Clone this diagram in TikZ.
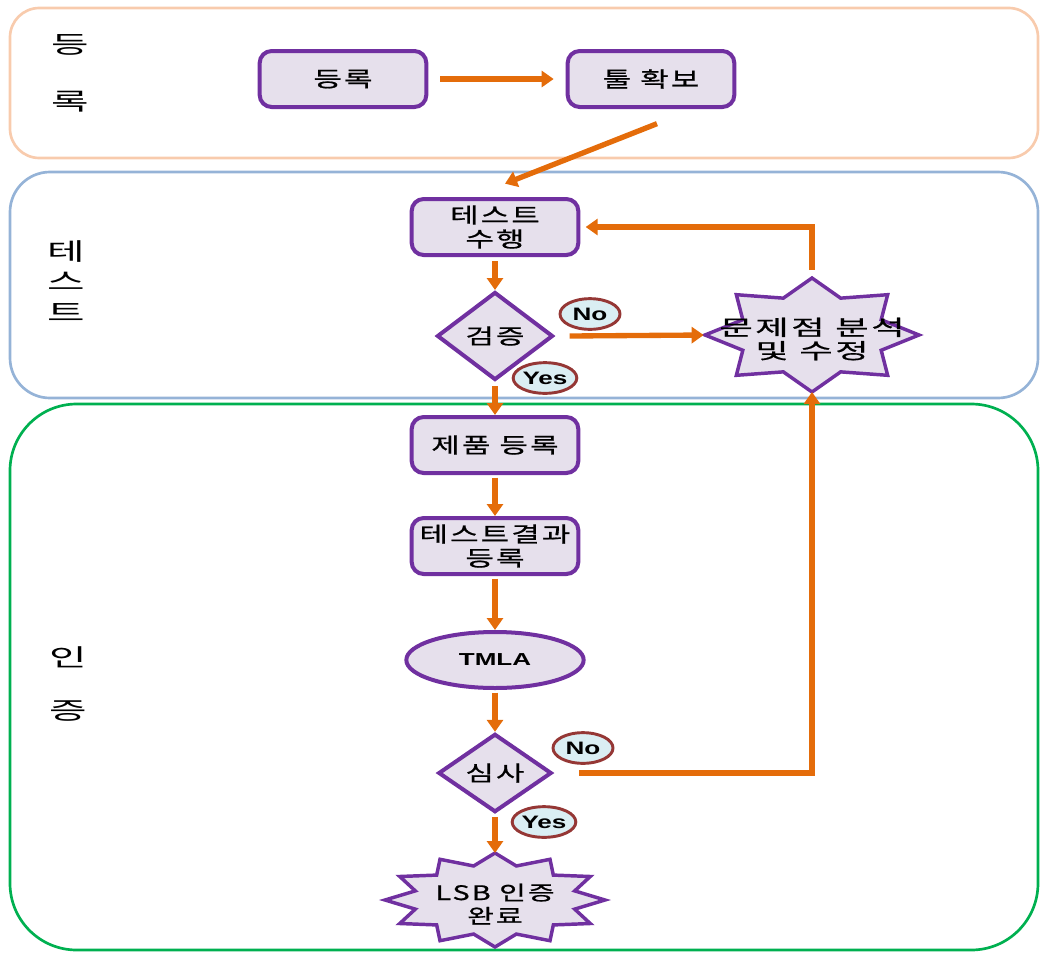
\documentclass[tikz,border=0pt]{standalone}
\usepackage{fontspec}
\setmainfont{Noto Sans CJK KR}
\newfontfamily\boxfont{Noto Sans CJK KR}[FakeStretch=1.45, LetterSpace=10, FakeBold=0.8]
\newfontfamily\starfont{Noto Sans CJK KR}[FakeStretch=1.7, LetterSpace=12, FakeBold=0.8]
\newfontfamily\lanefont{Noto Sans CJK KR}[FakeStretch=1.7]
\newfontfamily\tagfont{Liberation Sans}[FakeStretch=1.45]
\newfontfamily\ovalfont{Liberation Sans}[FakeStretch=1.5]
\usetikzlibrary{shapes.geometric,positioning,calc,arrows.meta}

\definecolor{procline}{HTML}{7030A0}
\definecolor{procfill}{HTML}{E6E0EC}
\definecolor{flow}{HTML}{E46C0A}
\definecolor{tagline}{HTML}{953735}
\definecolor{tagfill}{HTML}{DAEEF3}
\definecolor{laneA}{HTML}{F8CBAD}
\definecolor{laneB}{HTML}{95B3D7}
\definecolor{laneC}{HTML}{00B050}

\tikzset{
  lane/.style={line width=2pt},
  lanelabel/.style={align=center, inner sep=0pt},
  procbox/.style={draw=procline, line width=3pt, fill=procfill, rounded corners=9pt,
    minimum width=125pt, minimum height=42pt, align=center, inner sep=1pt,
    font=\boxfont\fontsize{16}{18}\selectfont},
  decision/.style={diamond, draw=procline, line width=3pt, fill=procfill, inner sep=0pt,
    font=\boxfont\fontsize{16}{18}\selectfont},
  oval/.style={ellipse, draw=procline, line width=3pt, fill=procfill, inner sep=0pt,
    minimum width=133pt, minimum height=42pt, font=\ovalfont\bfseries\fontsize{13}{15}\selectfont},
  starshape/.style={draw=procline, line width=2.6pt, fill=procfill, line join=miter},
  startext/.style={align=center, inner sep=0pt, font=\starfont\fontsize{16}{17.5}\selectfont},
  tag/.style={ellipse, draw=tagline, line width=2.2pt, fill=tagfill, inner sep=0pt,
    minimum width=45pt, minimum height=23pt, font=\tagfont\bfseries\fontsize{13.5}{15}\selectfont},
  flowarrow/.style={draw=flow, line width=4pt, -{Triangle[length=9pt,width=12pt]}},
}

\begin{document}
\begin{tikzpicture}[x=0.75pt, y=-0.75pt]
  \useasboundingbox (0,0) rectangle (1040,954);

  % Lanes
  \draw[lane, draw=laneA, rounded corners=22pt] (10,8) rectangle (1038,158);
  \draw[lane, draw=laneB, rounded corners=30pt] (10,172) rectangle (1038,398);
  \draw[lane, draw=laneC, rounded corners=50pt] (10,404) rectangle (1038,950);

  \node[lanelabel, font=\lanefont\fontsize{18}{43}\selectfont] (laneReg) at (70,73) {등\\록};
  \node[lanelabel, font=\lanefont\fontsize{18}{23}\selectfont] (laneTest) at (66,281) {테\\스\\트};
  \node[lanelabel, font=\lanefont\fontsize{18}{40}\selectfont] (laneCert) at (68,684) {인\\증};

  % Boxes
  \node[procbox] (reg) at (343,79) {등록};
  \node[procbox] (tool) at (651,79) {툴 확보};
  \node[procbox] (test) at (495,227) {테스트\\수행};
  \node[decision, minimum width=87pt, minimum height=66pt] (verify) at (495,336) {검증};
  \node[procbox] (prod) at (495,445) {제품 등록};
  \node[procbox] (result) at (495,546) {테스트결과\\등록};
  \node[oval] (tmla) at (495,660) {TMLA};
  \node[decision, minimum width=85pt, minimum height=56pt] (review) at (495,773) {심사};

  % Stars
  \draw[starshape, shift={(812,335)}] (0:107 and 57)
    \foreach \i in {1,...,15} { -- ({\i*22.5}:{107*(1-0.3*mod(\i,2))} and {57*(1-0.3*mod(\i,2))}) } -- cycle;
  \node[startext] (fix) at (812,339) {문제점 분석\\및 수정};
  \coordinate (fixW) at (705,335);
  \coordinate (fixN) at (812,278);
  \coordinate (fixS) at (812,392);

  \draw[starshape, shift={(495,900)}] (0:110 and 47)
    \foreach \i in {1,...,23} { -- ({\i*15}:{110*(1-0.25*mod(\i,2))} and {47*(1-0.25*mod(\i,2))}) } -- cycle;
  \node[startext, font=\boxfont\fontsize{15}{17.5}\selectfont] (done) at (495,904) {LSB 인증\\완료};
  \coordinate (doneN) at (495,853);

  % Yes / No
  \node[tag] (noA) at (590,314) {No};
  \node[tag] (yesA) at (545,378) {Yes};
  \node[tag] (noB) at (583,748) {No};
  \node[tag] (yesB) at (544,822) {Yes};

  % Arrows
  \draw[flowarrow] ([xshift=9pt]reg.east) -- ([xshift=-9pt]tool.west);
  \draw[flowarrow] ([xshift=4.5pt,yshift=-11pt]tool.south) -- ([xshift=7.5pt,yshift=10pt]test.north);
  \draw[flowarrow, shorten <=3pt] (test.south) -- (verify.north);
  \draw[flowarrow, shorten >=1pt] ([xshift=11pt]verify.east) -- (fixW);
  \draw[flowarrow] ([yshift=6pt]fixN) |- ([xshift=4pt]test.east);
  \draw[flowarrow, shorten <=3pt] (verify.south) -- (prod.north);
  \draw[flowarrow, shorten <=2pt] (prod.south) -- (result.north);
  \draw[flowarrow, shorten <=2pt] (result.south) -- (tmla.north);
  \draw[flowarrow, shorten <=2pt] (tmla.south) -- (review.north);
  \draw[flowarrow] ([xshift=19pt]review.east) -| (fixS);
  \draw[flowarrow, shorten <=2pt] (review.south) -- (doneN);
\end{tikzpicture}
\end{document}
